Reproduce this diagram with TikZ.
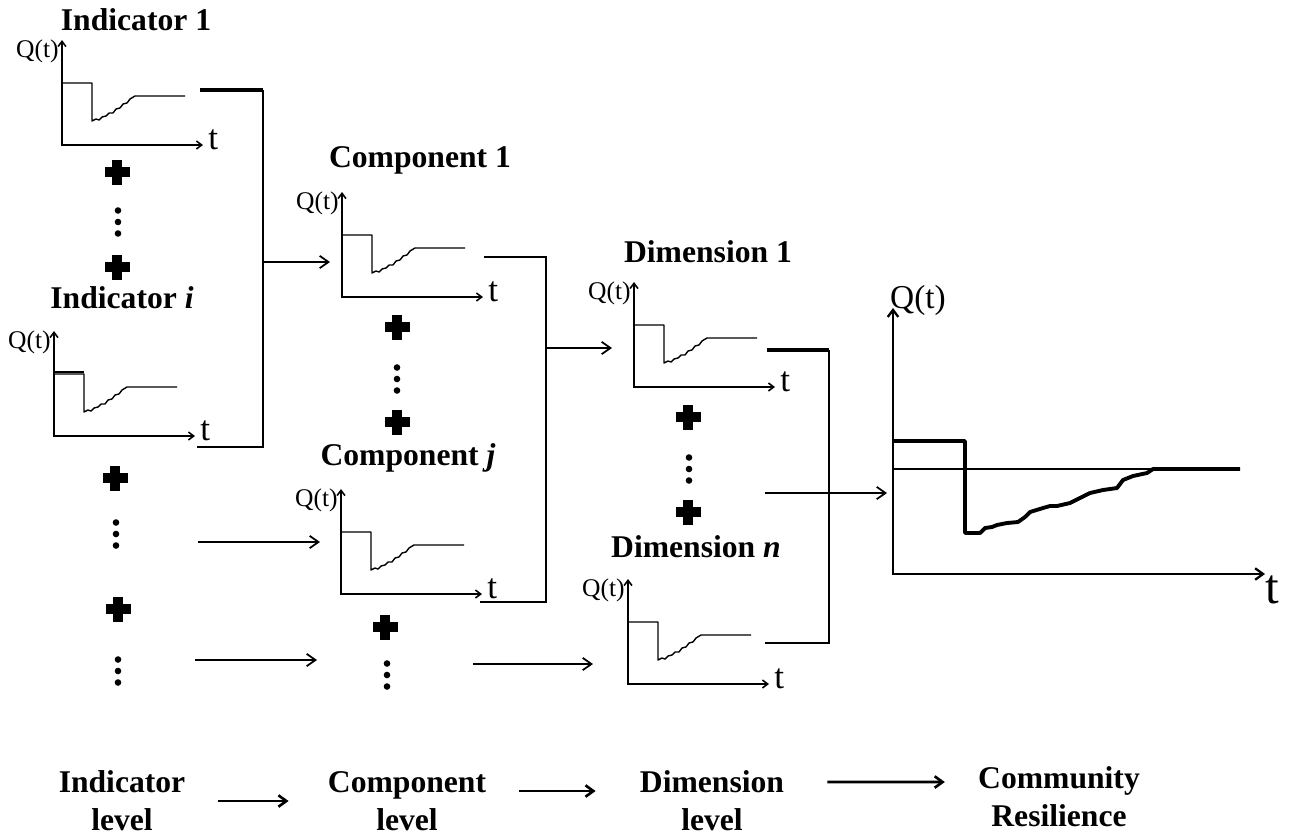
\documentclass[tikz,border=0pt]{standalone}
\usepackage{fontspec}
\setmainfont{Liberation Serif}
\usepackage{tikz}
\usetikzlibrary{arrows.meta}

\begin{document}
\begin{tikzpicture}[x=0.02cm,y=-0.02cm,
  ttl/.style={font=\fontsize{18}{21.6}\selectfont\bfseries,inner sep=0pt,anchor=base},
  lvl/.style={font=\fontsize{18}{21.6}\selectfont\bfseries,inner sep=0pt,align=center},
  qlab/.style={font=\fontsize{14.5}{16}\selectfont,inner sep=0pt},
  tlab/.style={font=\fontsize{20}{22}\selectfont,inner sep=0pt},
  axis/.style={line width=0.9pt,{Straight Barb[length=3pt,width=4.5pt]}-{Straight Barb[length=3pt,width=4.5pt]}},
  crv/.style={line width=0.8pt,line join=round},
  brk/.style={line width=1.3pt},
  brkthick/.style={line width=2.2pt},
  ar/.style={-{Straight Barb[length=5pt,width=7pt]},line width=1pt},
  lvlar/.style={-{Straight Barb[length=4.5pt,width=6.5pt]},line width=1.5pt},
  qchart/.pic={
    \draw[axis] (0,-105) -- (0,0) -- (141,0);
    \draw[crv] (0,-62) -- (30,-62) -- (30,-24) -- (34,-26) -- (37,-25) -- (40,-28) -- (44,-29) -- (47,-32)
      -- (51,-32) -- (54,-36) -- (58,-37) -- (61,-41) -- (65,-42) -- (68,-46) -- (73,-49) -- (123,-49);
    \node[qlab,anchor=east] (-q) at (-3,-94) {Q(t)};
    \node[tlab,anchor=west] (-t) at (146,-5) {t};
  },
  pls/.pic={
    \fill (-12.5,-5) rectangle (12.5,5);
    \fill (-4.7,-12.5) rectangle (4.7,12.5);
  },
  vdts/.pic={
    \foreach \d in {-11.5,0,11.5} \fill (0,\d) circle (3.3);
  }]
\useasboundingbox (0,0) rectangle (1293,839);

% Indicator level
\node[ttl] (ind1t) at (136,30) {Indicator 1};
\pic (ind1) at (62,145) {qchart};
\pic at (117,172) {pls};
\pic at (118,222) {vdts};
\pic at (117,267) {pls};
\node[ttl] (indit) at (122,308) {Indicator \textit{i}};
\pic (indi) at (54,436) {qchart};
\draw[line width=1.5pt] (54,372) -- (84,372);
\pic at (115,478) {pls};
\pic at (116,534) {vdts};
\pic at (118,609) {pls};
\pic at (118,671) {vdts};
\draw[brkthick] (200,90) -- (263,90);
\draw[brk] (263,90) -- (263,447) -- (197,447);
\coordinate (ib) at (263,262);
\coordinate (c1in) at (330,262);
\draw[ar] (ib) -- (c1in);
\coordinate (d1o) at (198,542);
\coordinate (cjin) at (320,542);
\draw[ar] (d1o) -- (cjin);
\coordinate (d2o) at (195,660);
\coordinate (c3in) at (317,660);
\draw[ar] (d2o) -- (c3in);

% Component level
\node[ttl] (cmp1t) at (420,167) {Component 1};
\pic (cmp1) at (342,297) {qchart};
\pic at (397,327) {pls};
\pic at (397,379) {vdts};
\pic at (397,422) {pls};
\node[ttl] (cmpjt) at (408,465) {Component \textit{j}};
\pic (cmpj) at (341,594) {qchart};
\pic at (385,627) {pls};
\pic at (387,675) {vdts};
\draw[brk] (484,257) -- (546,257) -- (546,602) -- (480,602);
\coordinate (cb) at (546,348);
\coordinate (d1in) at (612,348);
\draw[ar] (cb) -- (d1in);
\coordinate (c3o) at (473,664);
\coordinate (dnin) at (593,664);
\draw[ar] (c3o) -- (dnin);

% Dimension level
\node[ttl] (dim1t) at (708,262) {Dimension 1};
\pic (dim1) at (634,387) {qchart};
\pic at (688,417) {pls};
\pic at (689,469) {vdts};
\pic at (688,512) {pls};
\node[ttl] (dimnt) at (696,557) {Dimension \textit{n}};
\pic (dimn) at (628,684) {qchart};
\draw[brkthick] (767,350) -- (829,350);
\draw[brk] (829,350) -- (829,643) -- (765,643);
\coordinate (db) at (765,493);
\coordinate (rin) at (887,493);
\draw[ar] (db) -- (rin);

% Community resilience
\draw[line width=1.3pt,{Straight Barb[length=4pt,width=6pt]}-{Straight Barb[length=4.5pt,width=6.5pt]}] (893,308) -- (893,574) -- (1265,574);
\draw[line width=0.6pt] (893,469) -- (1153,469);
\draw[line width=2.2pt,line join=round] (893,441) -- (965,441) -- (965,533) -- (980,533) -- (985,528) -- (992,527)
  -- (997,525) -- (1007,523) -- (1018,522) -- (1025,517) -- (1030,512) -- (1043,508) -- (1050,506)
  -- (1057,506) -- (1070,503) -- (1080,498) -- (1090,493) -- (1103,490) -- (1117,488) -- (1120,484)
  -- (1123,480) -- (1133,476) -- (1147,473) -- (1153,469) -- (1240,469);
\node[font=\fontsize{19}{22}\selectfont,inner sep=0pt] (rq) at (918,300) {Q(t)};
\node[font=\fontsize{28}{30}\selectfont,inner sep=0pt] (rt) at (1272,590) {t};

% levels
\node[lvl] (lind) at (122,801) {Indicator\\level};
\node[lvl] (lcmp) at (407,801) {Component\\level};
\node[lvl] (ldim) at (712,801) {Dimension\\level};
\node[lvl] (lcom) at (1059,797) {Community\\Resilience};
\draw[lvlar] ([xshift=0.64cm]lind.east) -- ([xshift=-0.78cm]lcmp.west);
\draw[lvlar] ([xshift=0.66cm,yshift=0.2cm]lcmp.east) -- ([xshift=-0.88cm,yshift=0.2cm]ldim.west);
\draw[lvlar] ([xshift=0.86cm,yshift=0.38cm]ldim.east) -- ([xshift=-0.66cm,yshift=0.3cm]lcom.west);
\end{tikzpicture}
\end{document}
